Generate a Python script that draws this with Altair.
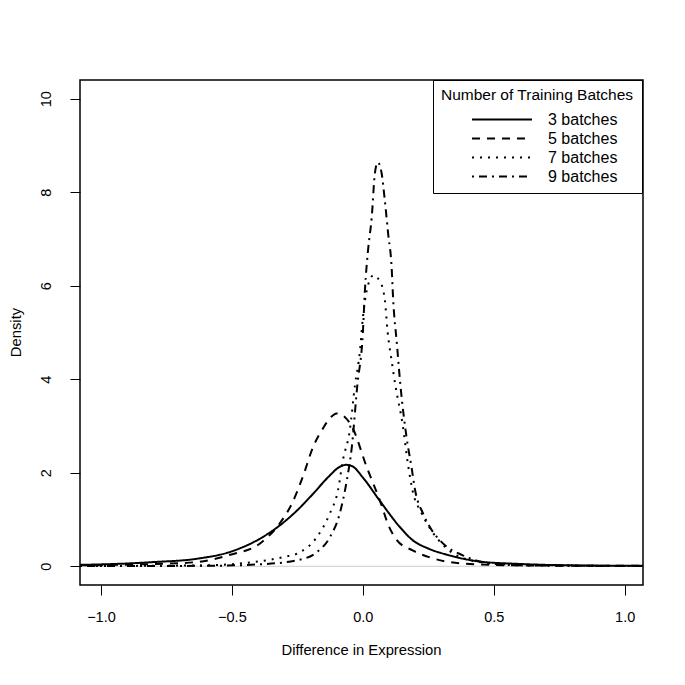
import altair as alt
import pandas as pd

series_names = ["3 batches", "5 batches", "7 batches", "9 batches"]

x3 = [-1.08, -0.9, -0.8, -0.635, -0.5, -0.39, -0.33, -0.25, -0.19, -0.13, -0.09, -0.065, -0.04, 0.0, 0.065, 0.14, 0.19, 0.25, 0.32, 0.45, 0.6, 0.8, 1.07]
y3 = [0.03, 0.06, 0.09, 0.16, 0.32, 0.6, 0.82, 1.2, 1.55, 1.92, 2.12, 2.17, 2.14, 1.9, 1.4, 0.85, 0.56, 0.38, 0.25, 0.1, 0.05, 0.02, 0.01]

x5 = [-1.08, -0.8, -0.635, -0.51, -0.39, -0.317, -0.27, -0.23, -0.19, -0.15, -0.12, -0.10, -0.07, -0.04, 0.015, 0.065, 0.10, 0.13, 0.19, 0.256, 0.38, 0.6, 1.07]
y5 = [0.02, 0.05, 0.09, 0.24, 0.5, 0.92, 1.35, 1.9, 2.55, 2.97, 3.2, 3.27, 3.2, 2.97, 2.12, 1.41, 0.85, 0.56, 0.34, 0.19, 0.06, 0.02, 0.01]

x7 = [-1.08, -0.6, -0.47, -0.355, -0.3, -0.24, -0.176, -0.126, -0.095, -0.076, -0.05, -0.03, -0.011, 0.0, 0.015, 0.04, 0.065, 0.084, 0.095, 0.11, 0.125, 0.153, 0.172, 0.19, 0.225, 0.27, 0.33, 0.41, 0.55, 1.07]
y7 = [0.005, 0.02, 0.06, 0.14, 0.2, 0.3, 0.62, 1.13, 1.62, 2.27, 2.9, 3.87, 4.6, 5.3, 5.9, 6.22, 6.1, 5.7, 5.0, 4.4, 3.85, 3.0, 2.2, 1.62, 1.13, 0.7, 0.34, 0.13, 0.04, 0.005]

x9 = [-1.08, -0.6, -0.4, -0.25, -0.176, -0.126, -0.088, -0.061, -0.042, -0.021, 0.0, 0.008, 0.02, 0.034, 0.046, 0.057, 0.072, 0.084, 0.097, 0.11, 0.116, 0.13, 0.144, 0.167, 0.186, 0.2, 0.23, 0.256, 0.306, 0.38, 0.485, 0.6, 1.07]
y9 = [0.005, 0.01, 0.04, 0.13, 0.3, 0.62, 1.13, 1.84, 2.55, 3.87, 4.98, 5.9, 6.76, 7.46, 8.4, 8.64, 8.4, 7.83, 7.1, 6.4, 5.7, 4.77, 3.85, 2.76, 2.12, 1.62, 1.13, 0.84, 0.49, 0.24, 0.06, 0.02, 0.005]

x_ticks = [-1.0, -0.5, 0.0, 0.5, 1.0]
y_ticks = [0, 2, 4, 6, 8, 10]
zero_line = [0]

rows = []
for name, xs, ys in zip(series_names, [x3, x5, x7, x9], [y3, y5, y7, y9]):
    for i, (a, b) in enumerate(zip(xs, ys)):
        rows.append({"series": name, "x": a, "y": b, "order": i})
df = pd.DataFrame(rows)

FONT = "Liberation Sans"

xscale = alt.Scale(domain=[-1.08, 1.07], nice=False, zero=False)
yscale = alt.Scale(domain=[-0.4, 10.4], nice=False, zero=False)

zero = alt.Chart(pd.DataFrame({"y": zero_line})).mark_rule(
    color="#cccccc", strokeWidth=1
).encode(y=alt.Y("y:Q", scale=yscale))

lines = alt.Chart(df).mark_line(
    color="black", strokeWidth=2, interpolate="monotone", clip=True
).encode(
    x=alt.X(
        "x:Q",
        scale=xscale,
        axis=alt.Axis(
            values=x_ticks,
            format=".1f",
            title="Difference in Expression",
            domain=False,
            grid=False,
            tickSize=10,
            tickColor="black",
            tickWidth=1,
            labelPadding=15,
            labelFontSize=14.5,
            labelFont=FONT,
            labelColor="black",
            labelFlush=False,
            titleFont=FONT,
            titleFontSize=14.8,
            titleFontWeight="normal",
            titleColor="black",
            titleX=281,
            titleY=69,
            titleBaseline="alphabetic",
        ),
    ),
    y=alt.Y(
        "y:Q",
        scale=yscale,
        axis=alt.Axis(
            values=y_ticks,
            title="Density",
            domain=False,
            grid=False,
            tickSize=10,
            tickColor="black",
            tickWidth=1,
            labelAngle=270,
            labelAlign="center",
            labelBaseline="alphabetic",
            labelPadding=20,
            labelFontSize=14.5,
            labelFont=FONT,
            labelColor="black",
            labelFlush=False,
            titleFont=FONT,
            titleFontSize=14.8,
            titleFontWeight="normal",
            titleColor="black",
            titleAngle=270,
            titleX=-60,
            titleY=252,
            titleAlign="center",
            titleBaseline="alphabetic",
        ),
    ),
    strokeDash=alt.StrokeDash(
        "series:N",
        scale=alt.Scale(
            domain=series_names,
            range=[[1, 0], [8, 7], [2, 6], [2, 5, 8, 5]],
        ),
        legend=alt.Legend(
            title="Number of Training Batches",
            orient="none",
            legendX=353,
            legendY=0,
            direction="vertical",
            symbolType="stroke",
            symbolSize=3600,
            symbolStrokeWidth=2,
            symbolStrokeColor="black",
            symbolOffset=14,
            clipHeight=16,
            labelOffset=15,
            labelFont=FONT,
            labelFontSize=16,
            labelColor="black",
            labelLimit=200,
            titleFont=FONT,
            titleFontSize=15.5,
            titleFontWeight="normal",
            titleColor="black",
            titleAnchor="middle",
            titleLimit=400,
            titlePadding=8,
            rowPadding=3,
            padding=8,
            strokeColor="black",
            fillColor="white",
            cornerRadius=0,
        ),
    ),
    order="order:Q",
)

chart = alt.layer(zero, lines).properties(
    width=563,
    height=505,
    autosize=alt.AutoSizeParams(type="none"),
    padding={"left": 72, "top": 72, "right": 30, "bottom": 90},
).configure(
    background="white",
    view=alt.ViewConfig(stroke="black", strokeWidth=1.5),
)

chart.save("out.html", embed_options={"renderer": "svg", "actions": False})
